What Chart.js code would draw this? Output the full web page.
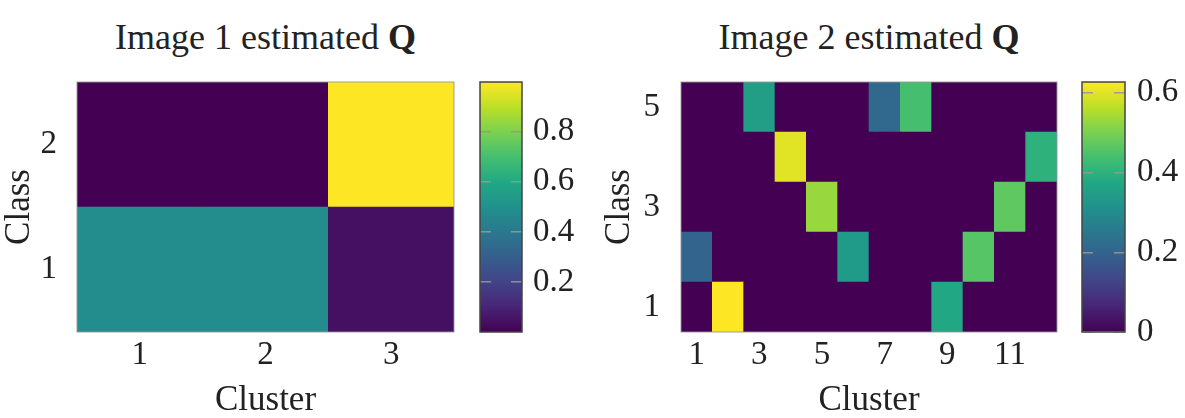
<!DOCTYPE html>
<html>
<head>
<meta charset="utf-8">
<script src="https://cdn.jsdelivr.net/npm/chart.js@4.4.0/dist/chart.umd.min.js"></script>
<style>
  body { margin: 0; background: #fff; width: 1185px; height: 418px; position: relative; overflow: hidden; font-family: "Liberation Serif", serif; }
  .box { position: absolute; top: 0; height: 418px; }
  .ttl { position: absolute; top: 14px; font-size: 36px; line-height: 46px; text-align: center; color: #222; white-space: nowrap; }
</style>
</head>
<body>
<div class="ttl" style="left:77px;width:377px">Image 1 estimated <b>Q</b></div>
<div class="ttl" style="left:681px;width:376px">Image 2 estimated <b>Q</b></div>
<div class="box" style="left:0;width:470px"><canvas id="heat1"></canvas></div>
<div class="box" style="left:470px;width:115px"><canvas id="bar1"></canvas></div>
<div class="box" style="left:590px;width:480px"><canvas id="heat2"></canvas></div>
<div class="box" style="left:1070px;width:115px"><canvas id="bar2"></canvas></div>
<script>
// image 1: 2 classes x 3 clusters
var clusters1 = ['1', '2', '3'];
var q1Class1 = [0.478, 0.478, 0.044];
var q1Class2 = [0.002, 0.002, 0.996];
var xTicks1 = ['1', '2', '3'];
var yTicks1 = [1, 2];
var cbTicks1 = [0.2, 0.4, 0.6, 0.8];

// image 2: 5 classes x 12 clusters
var clusters2 = ['1', '2', '3', '4', '5', '6', '7', '8', '9', '10', '11', '12'];
var q2Class1 = [0, 0.627, 0, 0, 0, 0, 0, 0, 0.373, 0, 0, 0];
var q2Class2 = [0.20, 0, 0, 0, 0, 0.34, 0, 0, 0, 0.46, 0, 0];
var q2Class3 = [0, 0, 0, 0, 0.53, 0, 0, 0, 0, 0, 0.47, 0];
var q2Class4 = [0, 0, 0, 0.60, 0, 0, 0, 0, 0, 0, 0, 0.40];
var q2Class5 = [0, 0, 0.35, 0, 0, 0, 0.21, 0.44, 0, 0, 0, 0];
var xTicks2 = ['1', '3', '5', '7', '9', '11'];
var yTicks2 = [1, 3, 5];
var cbTicks2 = [0, 0.2, 0.4, 0.6];

var FONT = '"Liberation Serif", serif';
var INK = '#222';
var VIRIDIS = ['#440154', '#482475', '#414487', '#355f8d', '#2a788e', '#21918c',
               '#22a884', '#44bf70', '#7ad151', '#bddf26', '#fde725'];

function hexRgb(h) {
  return [parseInt(h.substr(1, 2), 16), parseInt(h.substr(3, 2), 16), parseInt(h.substr(5, 2), 16)];
}

function viridis(t) {
  t = Math.max(0, Math.min(1, t));
  var n = VIRIDIS.length - 1;
  var i = Math.min(n - 1, Math.floor(t * n));
  var f = t * n - i;
  var a = hexRgb(VIRIDIS[i]), b = hexRgb(VIRIDIS[i + 1]);
  var c = a.map(function(v, k) { return Math.round(v + (b[k] - v) * f); });
  return 'rgb(' + c.join(',') + ')';
}

function rangeOf(rows) {
  var all = [].concat.apply([], rows);
  return [Math.min.apply(null, all), Math.max.apply(null, all)];
}

function framePlugin(color, width) {
  return {
    id: 'frame',
    afterDraw: function(chart) {
      var a = chart.chartArea, c = chart.ctx;
      c.save();
      c.strokeStyle = color;
      c.lineWidth = width;
      c.strokeRect(a.left, a.top, a.right - a.left, a.bottom - a.top);
      c.restore();
    }
  };
}

function heatChart(id, clusters, rows, xShown, yShown, range, geom) {
  var datasets = rows.map(function(vals, r) {
    var cls = r + 1;
    return {
      label: 'Class ' + cls,
      data: vals.map(function() { return [cls - 0.5, cls + 0.5]; }),
      backgroundColor: vals.map(function(v) { return viridis((v - range[0]) / (range[1] - range[0])); }),
      borderWidth: 0,
      barPercentage: 1,
      categoryPercentage: 1,
      grouped: false
    };
  });
  return new Chart(document.getElementById(id), {
    type: 'bar',
    data: { labels: clusters, datasets: datasets },
    options: {
      responsive: true,
      maintainAspectRatio: false,
      animation: false,
      devicePixelRatio: 1,
      layout: { padding: { top: 82, right: geom.right, left: 0, bottom: 0 } },
      plugins: { legend: { display: false }, tooltip: { enabled: false } },
      scales: {
        x: {
          grid: { display: false },
          border: { display: false },
          ticks: {
            autoSkip: false, maxRotation: 0, padding: -4, color: INK,
            font: { family: FONT, size: 33 },
            callback: function(v) {
              var l = this.getLabelForValue(v);
              return xShown.indexOf(l) >= 0 ? l : '';
            }
          },
          title: { display: true, text: 'Cluster', color: INK, font: { family: FONT, size: 35, lineHeight: 1 }, padding: 0 },
          afterFit: function(s) { s.height = 86; }
        },
        y: {
          min: 0.5,
          max: rows.length + 0.5,
          grid: { display: false },
          border: { display: false },
          afterBuildTicks: function(s) { s.ticks = yShown.map(function(v) { return { value: v }; }); },
          ticks: { padding: geom.yPad, color: INK, font: { family: FONT, size: 33 } },
          title: { display: true, text: 'Class', color: INK, font: { family: FONT, size: 35, lineHeight: 1 }, padding: { top: geom.titlePad, bottom: 0 } },
          afterFit: function(s) { s.width = geom.yWidth; }
        }
      }
    },
    plugins: [framePlugin('rgba(150,150,150,0.9)', 1)]
  });
}

function colorBar(id, range, ticks, geom) {
  return new Chart(document.getElementById(id), {
    type: 'bar',
    data: {
      labels: [''],
      datasets: [{
        data: [range],
        backgroundColor: function(ctx) {
          var a = ctx.chart.chartArea;
          if (!a) return null;
          var g = ctx.chart.ctx.createLinearGradient(0, a.bottom, 0, a.top);
          VIRIDIS.forEach(function(c, i) { g.addColorStop(i / (VIRIDIS.length - 1), c); });
          return g;
        },
        borderWidth: 0,
        barPercentage: 1,
        categoryPercentage: 1
      }]
    },
    options: {
      responsive: true,
      maintainAspectRatio: false,
      animation: false,
      devicePixelRatio: 1,
      layout: { padding: { left: geom.left, top: 82, bottom: 86, right: 0 } },
      plugins: { legend: { display: false }, tooltip: { enabled: false } },
      scales: {
        x: { display: false },
        y: {
          position: 'right',
          min: range[0],
          max: range[1],
          afterBuildTicks: function(s) { s.ticks = ticks.map(function(v) { return { value: v }; }); },
          grid: { drawTicks: false, color: 'rgba(150,150,150,0.9)', lineWidth: 1.5, z: 1 },
          border: { display: false, dash: [11, geom.gap] },
          ticks: {
            padding: geom.pad, color: INK, font: { family: FONT, size: 33 },
            callback: function(v) { return v === 0 ? '0' : v.toFixed(1); }
          },
          afterFit: function(s) { s.width = geom.axisWidth; }
        }
      }
    },
    plugins: [framePlugin('#444', 1.5)]
  });
}

var rows1 = [q1Class1, q1Class2];
var rows2 = [q2Class1, q2Class2, q2Class3, q2Class4, q2Class5];
var range1 = rangeOf(rows1);
var range2 = rangeOf(rows2);

heatChart('heat1', clusters1, rows1, xTicks1, yTicks1, range1, { right: 16, yPad: 12, titlePad: 2, yWidth: 77 });
colorBar('bar1', range1, cbTicks1, { left: 10, pad: 11, axisWidth: 63, gap: 20 });
heatChart('heat2', clusters2, rows2, xTicks2, yTicks2, range2, { right: 13, yPad: 13, titlePad: 12, yWidth: 91 });
colorBar('bar2', range2, cbTicks2, { left: 12, pad: 12, axisWidth: 60, gap: 21 });
</script>
</body>
</html>
